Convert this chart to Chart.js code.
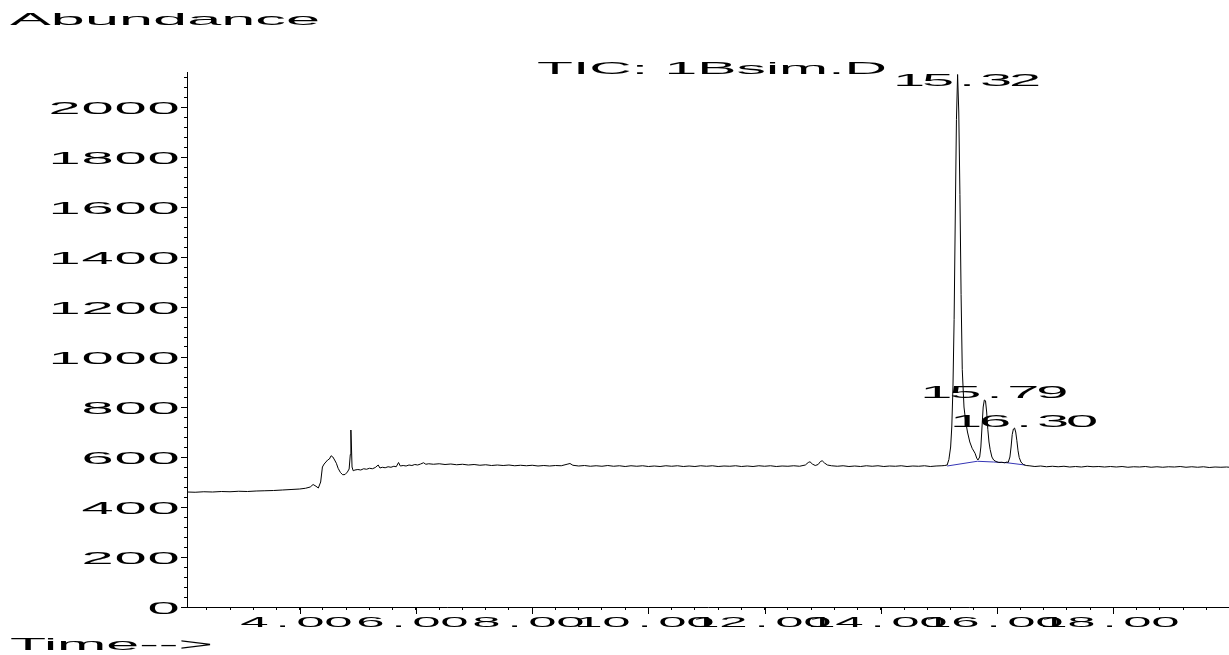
<!DOCTYPE html>
<html>
<head>
<meta charset="utf-8">
<script src="https://cdn.jsdelivr.net/npm/chart.js@4.4.1/dist/chart.umd.min.js"></script>
<style>
  html, body { margin: 0; padding: 0; background: #fff; }
  #wrap { width: 1229px; height: 655px; position: relative; }
</style>
</head>
<body>
<div id="wrap"><canvas id="tic"></canvas></div>
<script>
// retention time (min) and abundance
var times = [
  2.06, 2.2, 2.35, 2.5, 2.65, 2.8, 2.95, 3.1, 3.25, 3.4, 3.55, 3.7, 3.85, 4.0, 4.1, 4.18, 4.23, 4.28, 4.32,
  4.36, 4.39, 4.42, 4.45, 4.48, 4.51, 4.54, 4.57, 4.6, 4.63, 4.66, 4.7, 4.74, 4.78, 4.82, 4.85, 4.87, 4.88,
  4.89, 4.9, 4.92, 4.95, 5.0, 5.05, 5.1, 5.15, 5.2, 5.25, 5.3, 5.35, 5.38, 5.42, 5.47, 5.52, 5.57, 5.62,
  5.66, 5.7, 5.73, 5.78, 5.83, 5.88, 5.93, 5.98, 6.03, 6.08, 6.13, 6.17, 6.22, 6.3, 6.4, 6.5, 6.6, 6.7,
  6.8, 6.9, 7.0, 7.1, 7.2, 7.3, 7.4, 7.5, 7.6, 7.7, 7.8, 7.9, 8.0, 8.1, 8.2, 8.3, 8.4, 8.5, 8.6, 8.65,
  8.7, 8.8, 8.9, 9.0, 9.1, 9.2, 9.3, 9.4, 9.5, 9.6, 9.7, 9.8, 9.9, 10.0, 10.1, 10.2, 10.3, 10.4, 10.5,
  10.6, 10.7, 10.8, 10.9, 11.0, 11.1, 11.2, 11.3, 11.4, 11.5, 11.6, 11.7, 11.8, 11.9, 12.0, 12.1, 12.2,
  12.3, 12.4, 12.5, 12.6, 12.7, 12.75, 12.78, 12.82, 12.87, 12.92, 12.96, 12.99, 13.03, 13.08, 13.15,
  13.25, 13.35, 13.45, 13.55, 13.65, 13.75, 13.85, 13.95, 14.05, 14.15, 14.25, 14.35, 14.45, 14.55,
  14.65, 14.75, 14.85, 14.95, 15.05, 15.1, 15.14, 15.17, 15.2, 15.22, 15.24, 15.26, 15.28, 15.3, 15.32,
  15.34, 15.36, 15.38, 15.4, 15.43, 15.46, 15.49, 15.53, 15.57, 15.62, 15.65, 15.67, 15.7, 15.72, 15.74,
  15.76, 15.78, 15.8, 15.82, 15.84, 15.86, 15.88, 15.91, 15.94, 15.98, 16.03, 16.08, 16.13, 16.17, 16.19,
  16.22, 16.24, 16.26, 16.28, 16.3, 16.32, 16.34, 16.36, 16.38, 16.41, 16.45, 16.5, 16.55, 16.65, 16.75,
  16.85, 16.95, 17.05, 17.15, 17.25, 17.35, 17.45, 17.55, 17.65, 17.75, 17.85, 17.95, 18.05, 18.15,
  18.25, 18.35, 18.45, 18.55, 18.65, 18.75, 18.85, 18.95, 19.05, 19.15, 19.25, 19.35, 19.45, 19.55,
  19.65, 19.75, 19.85, 19.95, 20.0
];
var abundance = [
  460, 459, 461, 460, 462, 461, 463, 462, 464, 465, 466, 468, 470, 472, 475, 480, 490, 483, 476,
  500, 560, 572, 580, 588, 592, 605, 600, 588, 575, 555, 538, 529, 530, 540, 552, 610, 708,
  640, 560, 545, 548, 550, 548, 553, 551, 555, 553, 558, 568, 556, 559, 557, 561, 559, 563,
  561, 578, 564, 566, 564, 568, 566, 570, 568, 572, 577, 571, 573, 571, 573, 570, 572, 569,
  571, 568, 570, 567, 569, 566, 568, 566, 568, 565, 567, 565, 567, 564, 566, 564, 566, 565, 571, 574,
  567, 564, 566, 563, 565, 563, 566, 563, 565, 562, 565, 563, 565, 562, 564, 562, 565, 563, 565,
  562, 564, 562, 565, 563, 565, 562, 564, 563, 565, 562, 564, 562, 565, 563, 565, 562,
  564, 563, 565, 563, 568, 578, 581, 572, 566, 570, 582, 585, 576, 568, 565,
  563, 565, 562, 564, 562, 565, 563, 565, 562, 564, 563, 565, 562, 564,
  563, 565, 562, 564, 565, 566, 568, 590, 640, 720, 880, 1150, 1560, 1950, 2130,
  1980, 1650, 1250, 950, 800, 740, 700, 660, 635, 615, 595, 588, 600, 640, 720,
  800, 828, 825, 780, 710, 660, 630, 600, 588, 582, 578, 579, 577, 580, 578,
  600, 640, 690, 712, 716, 700, 665, 625, 598, 580, 570, 566, 565, 562, 564,
  561, 563, 561, 563, 560, 562, 560, 563, 561, 562, 560, 562, 560, 562,
  559, 561, 560, 562, 559, 561, 559, 561, 560, 562, 559, 561, 559, 561,
  558, 560, 559, 560, 559
];
// integration baseline under the three peaks
var baseTimes = [15.14, 15.66, 15.94, 16.17, 16.48];
var baseAbund = [564, 583, 580, 577, 568];

var peakTimes = [15.32, 15.79, 16.30];
var peakNames = ['15.32', '15.79', '16.30'];

var xMin = 2.06, xMax = 19.99, yMin = 0, yMax = 2140;

var FONT = '"Liberation Sans", Arial, sans-serif';

// HP plot text is very wide, so stretch it horizontally
function fitText(ctx, str, left, width, cy, size) {
  ctx.save();
  ctx.font = size + 'px ' + FONT;
  ctx.fillStyle = '#000';
  ctx.textBaseline = 'alphabetic';
  ctx.textAlign = 'left';
  var sx = width / ctx.measureText(str).width;
  ctx.translate(left, cy + size * 0.358);
  ctx.scale(sx, 1);
  ctx.fillText(str, 0, 0);
  ctx.restore();
}
// numbers: every char in a fixed-width cell, like the plotter font
function cellText(ctx, str, x, cy, size, sx, pitch, align) {
  var w = str.length * pitch;
  var left = align === 'right' ? x - w : (align === 'center' ? x - w / 2 : x);
  ctx.save();
  ctx.font = size + 'px ' + FONT;
  ctx.fillStyle = '#000';
  ctx.textBaseline = 'alphabetic';
  ctx.textAlign = 'center';
  for (var i = 0; i < str.length; i++) {
    ctx.save();
    ctx.translate(left + (i + 0.5) * pitch, cy + size * 0.358);
    ctx.scale(sx, 1);
    ctx.fillText(str[i], 0, 0);
    ctx.restore();
  }
  ctx.restore();
}
function isMultiple(v, step) {
  return Math.abs(v / step - Math.round(v / step)) < 1e-6;
}

var hpText = {
  id: 'hpText',
  afterDraw: function (chart) {
    var ctx = chart.ctx, xs = chart.scales.x, ys = chart.scales.y, area = chart.chartArea;
    ctx.save();
    ctx.strokeStyle = '#000';
    ctx.lineWidth = 1;
    xs.ticks.forEach(function (t) {
      if (!isMultiple(t.value, 2)) return;
      var px = Math.round(xs.getPixelForValue(t.value)) + 0.5;
      ctx.beginPath();
      ctx.moveTo(px, area.bottom);
      ctx.lineTo(px, area.bottom + 7);
      ctx.stroke();
      cellText(ctx, t.value.toFixed(2), px - 4, 622, 15, 3.4, 28, 'center');
    });
    ys.ticks.forEach(function (t) {
      if (!isMultiple(t.value, 200)) return;
      var py = Math.round(ys.getPixelForValue(t.value)) + 0.5;
      ctx.beginPath();
      ctx.moveTo(area.left, py);
      ctx.lineTo(area.left - 6, py);
      ctx.stroke();
      cellText(ctx, String(t.value), 180, py, 17, 3.4, 33, 'right');
    });
    ctx.restore();

    fitText(ctx, 'Abundance', 10, 310, 19, 17);
    fitText(ctx, 'Time-->', 10, 203, 644, 17);
    fitText(ctx, 'TIC: 1Bsim.D', 537, 350, 68, 17);
    var labelY = [80, 392, 421];
    peakTimes.forEach(function (rt, i) {
      cellText(ctx, peakNames[i], xs.getPixelForValue(rt) - 63, labelY[i], 17, 3.4, 29, 'left');
    });
  }
};

var trace = times.map(function (t, i) { return { x: t, y: abundance[i] }; });
var baseline = baseTimes.map(function (t, i) { return { x: t, y: baseAbund[i] }; });

new Chart(document.getElementById('tic'), {
  type: 'line',
  data: {
    datasets: [{
      label: 'TIC',
      data: trace,
      borderColor: '#000',
      borderWidth: 1,
      pointRadius: 0,
      tension: 0
    }, {
      label: 'baseline',
      data: baseline,
      borderColor: '#3535b5',
      borderWidth: 1,
      pointRadius: 0,
      tension: 0
    }]
  },
  options: {
    responsive: true,
    maintainAspectRatio: false,
    animation: false,
    events: [],
    layout: { padding: { top: 72, right: 0, left: 0, bottom: 0 } },
    plugins: { legend: { display: false }, tooltip: { enabled: false } },
    scales: {
      x: {
        type: 'linear',
        min: xMin,
        max: xMax,
        afterFit: function (s) { s.height = 48; },
        border: { display: true, color: '#000', width: 1 },
        grid: { drawOnChartArea: false, drawTicks: true, tickLength: 3, tickColor: '#000' },
        ticks: { display: false, stepSize: 0.4, includeBounds: false, autoSkip: false, maxTicksLimit: 1000 }
      },
      y: {
        min: yMin,
        max: yMax,
        afterFit: function (s) { s.width = 187; },
        border: { display: true, color: '#000', width: 1 },
        grid: { drawOnChartArea: false, drawTicks: true, tickLength: 3, tickColor: '#000' },
        ticks: { display: false, stepSize: 40, includeBounds: false, autoSkip: false, maxTicksLimit: 1000 }
      }
    }
  },
  plugins: [hpText]
});
</script>
</body>
</html>
